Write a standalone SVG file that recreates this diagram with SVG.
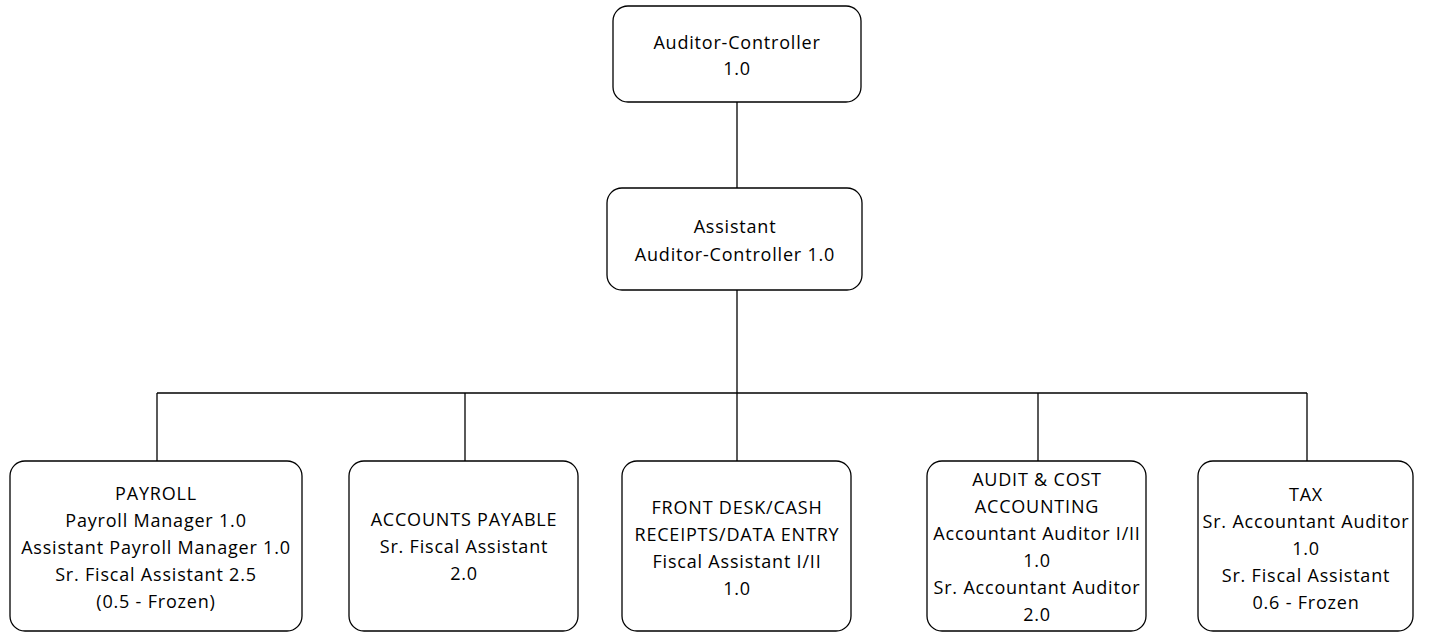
<svg xmlns="http://www.w3.org/2000/svg" width="1445" height="632" viewBox="0 0 1445 632">
<style>
.box{fill:#fff;stroke:#000;stroke-width:1.3}
.t{font-family:"Open Sans","Liberation Sans",sans-serif;font-size:18px;fill:#000;text-anchor:middle;letter-spacing:0.8px}
.c{stroke:#000;stroke-width:1.3;fill:none}
</style>
<rect width="1445" height="632" fill="#fff"/>
<g id="connectors">
<line class="c" x1="737" y1="102" x2="737" y2="188"/>
<line class="c" x1="737" y1="290" x2="737" y2="461"/>
<line class="c" x1="157" y1="393" x2="1307" y2="393"/>
<line class="c" x1="157" y1="393" x2="157" y2="461"/>
<line class="c" x1="465" y1="393" x2="465" y2="461"/>
<line class="c" x1="1038" y1="393" x2="1038" y2="461"/>
<line class="c" x1="1307" y1="393" x2="1307" y2="461"/>
</g>
<g id="auditor-controller">
<rect class="box" x="613" y="6" width="248" height="96" rx="15"/>
<text class="t" x="737" y="49">Auditor-Controller</text>
<text class="t" x="737" y="75">1.0</text>
</g>
<g id="assistant-auditor-controller">
<rect class="box" x="607" y="188" width="255" height="102" rx="15"/>
<text class="t" x="735" y="233">Assistant</text>
<text class="t" x="735" y="261">Auditor-Controller 1.0</text>
</g>
<g id="payroll">
<rect class="box" x="10" y="461" width="292" height="170" rx="15"/>
<text class="t" x="156" y="500">PAYROLL</text>
<text class="t" x="156" y="527">Payroll Manager 1.0</text>
<text class="t" x="156" y="554">Assistant Payroll Manager 1.0</text>
<text class="t" x="156" y="581">Sr. Fiscal Assistant 2.5</text>
<text class="t" x="156" y="608">(0.5 - Frozen)</text>
</g>
<g id="accounts-payable">
<rect class="box" x="349" y="461" width="229" height="170" rx="15"/>
<text class="t" x="464" y="526">ACCOUNTS PAYABLE</text>
<text class="t" x="464" y="553">Sr. Fiscal Assistant</text>
<text class="t" x="464" y="580">2.0</text>
</g>
<g id="front-desk">
<rect class="box" x="622" y="461" width="229" height="170" rx="15"/>
<text class="t" x="737" y="514">FRONT DESK/CASH</text>
<text class="t" x="737" y="541">RECEIPTS/DATA ENTRY</text>
<text class="t" x="737" y="568">Fiscal Assistant I/II</text>
<text class="t" x="737" y="595">1.0</text>
</g>
<g id="audit-cost-accounting">
<rect class="box" x="927" y="461" width="219" height="170" rx="15"/>
<text class="t" x="1037" y="486">AUDIT &amp; COST</text>
<text class="t" x="1037" y="513">ACCOUNTING</text>
<text class="t" x="1037" y="540">Accountant Auditor I/II</text>
<text class="t" x="1037" y="567">1.0</text>
<text class="t" x="1037" y="594">Sr. Accountant Auditor</text>
<text class="t" x="1037" y="621">2.0</text>
</g>
<g id="tax">
<rect class="box" x="1198" y="461" width="215" height="170" rx="15"/>
<text class="t" x="1306" y="501">TAX</text>
<text class="t" x="1306" y="528">Sr. Accountant Auditor</text>
<text class="t" x="1306" y="555">1.0</text>
<text class="t" x="1306" y="582">Sr. Fiscal Assistant</text>
<text class="t" x="1306" y="609">0.6 - Frozen</text>
</g>
</svg>
